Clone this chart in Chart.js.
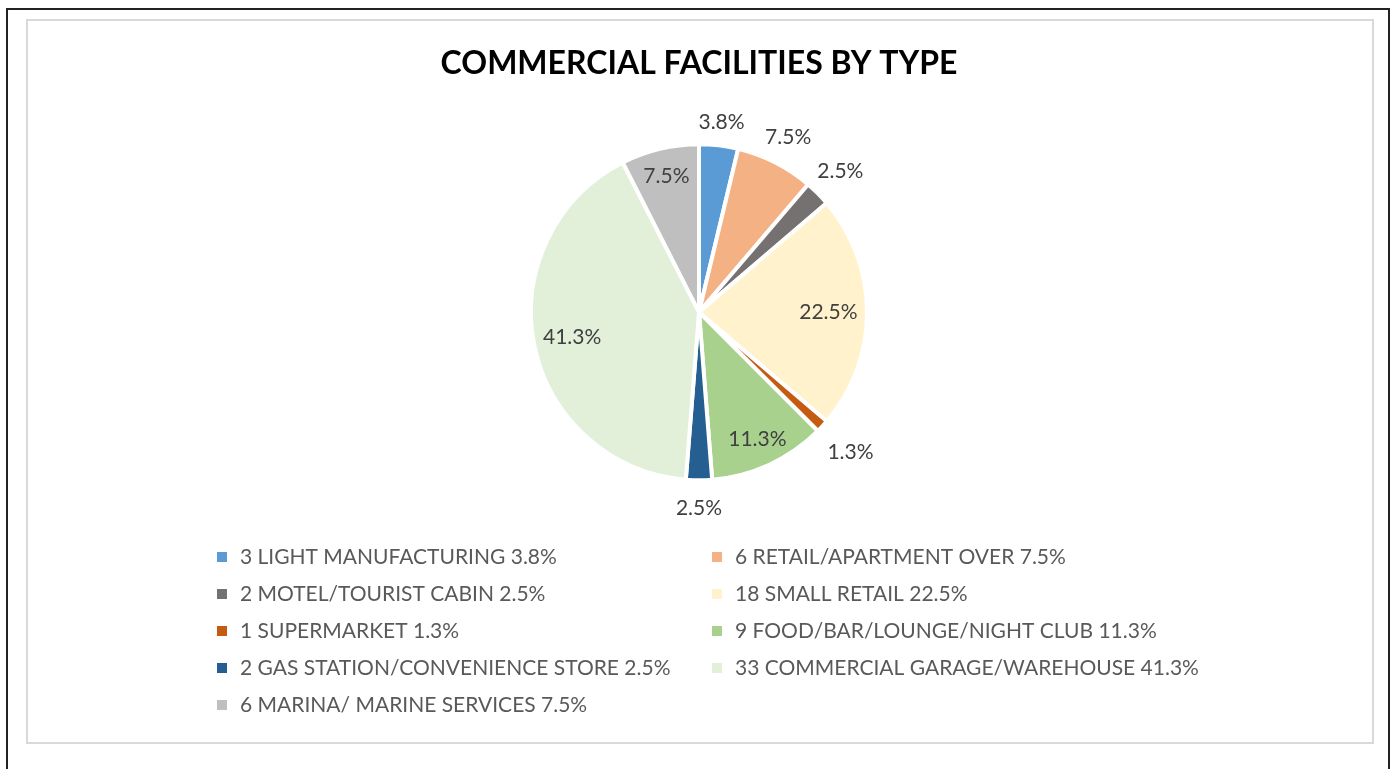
<!DOCTYPE html>
<html>
<head>
<meta charset="utf-8">
<script src="https://cdn.jsdelivr.net/npm/chart.js@4.4.1/dist/chart.umd.min.js"></script>
<style>
  html, body { margin: 0; padding: 0; background: #fff; }
  #wrap { position: relative; width: 1395px; height: 769px; overflow: hidden; }
  #outer { position: absolute; left: 6px; top: 8px; width: 1380px; height: 800px; border: 2px solid #222; }
  #inner { position: absolute; left: 26px; top: 19px; width: 1344px; height: 721px; border: 2px solid #d9d9d9; }
  #pie { position: absolute; left: 0; top: 0; }
</style>
</head>
<body>
<div id="wrap">
  <div id="outer"></div>
  <div id="inner"></div>
  <canvas id="pie" width="1395" height="769"></canvas>
</div>
<script>
// data
var categories = [
    'LIGHT MANUFACTURING',
    'RETAIL/APARTMENT OVER',
    'MOTEL/TOURIST CABIN',
    'SMALL RETAIL',
    'SUPERMARKET',
    'FOOD/BAR/LOUNGE/NIGHT CLUB',
    'GAS STATION/CONVENIENCE STORE',
    'COMMERCIAL GARAGE/WAREHOUSE',
    'MARINA/ MARINE SERVICES'
];
var counts = [3, 6, 2, 18, 1, 9, 2, 33, 6];
var percentLabels = ['3.8%', '7.5%', '2.5%', '22.5%', '1.3%', '11.3%', '2.5%', '41.3%', '7.5%'];
var colors = ['#5B9BD5', '#F4B183', '#767171', '#FFF2CC', '#C55A11', '#A9D18E', '#255E91', '#E2F0D9', '#BFBFBF'];

// slices whose percentage sits outside the pie
var outsideLabels = [0, 1, 2, 4, 6];

const sliceLabels = {
    id: 'sliceLabels',
    afterDatasetsDraw(chart) {
        const ctx = chart.ctx;
        const meta = chart.getDatasetMeta(0);
        const total = counts.reduce(function(a, b) { return a + b; }, 0);
        ctx.save();
        ctx.font = '21px Lato';
        ctx.fillStyle = '#404040';
        ctx.textAlign = 'center';
        ctx.textBaseline = 'middle';
        meta.data.forEach(function(arc, i) {
            const p = arc.getProps(['x', 'y', 'startAngle', 'endAngle', 'outerRadius'], true);
            const mid = (p.startAngle + p.endAngle) / 2;
            let r;
            if (outsideLabels.indexOf(i) >= 0) {
                // angle measured from 12 o'clock
                const a = mid + Math.PI / 2;
                r = p.outerRadius + 22 + 14 * Math.abs(Math.sin(a)) + (Math.cos(a) < 0 ? 6 : 0);
            } else {
                r = p.outerRadius * (counts[i] / total > 0.15 ? 0.77 : 0.83);
            }
            ctx.fillText(percentLabels[i], p.x + Math.cos(mid) * r, p.y + Math.sin(mid) * r);
        });
        ctx.restore();
    }
};

// two column legend, filled row by row
const gridLegend = {
    id: 'gridLegend',
    afterDraw(chart) {
        const ctx = chart.ctx;
        const meta = chart.getDatasetMeta(0);
        const cols = [217, 712];
        ctx.save();
        ctx.font = '21px Lato';
        ctx.textBaseline = 'middle';
        ctx.textAlign = 'left';
        categories.forEach(function(cat, i) {
            const x = cols[i % 2];
            const y = 557 + Math.floor(i / 2) * 37;
            ctx.fillStyle = meta.data[i].options.backgroundColor;
            ctx.fillRect(x, y - 5, 10, 10);
            ctx.fillStyle = '#595959';
            ctx.fillText(counts[i] + ' ' + cat + ' ' + percentLabels[i], x + 23, y);
        });
        ctx.restore();
    }
};

const ctx = document.getElementById('pie').getContext('2d');
const myChart = new Chart(ctx, {
    type: 'pie',
    data: {
        labels: categories,
        datasets: [{
            data: counts,
            backgroundColor: colors,
            borderColor: '#ffffff',
            borderWidth: 4
        }]
    },
    options: {
        responsive: false,
        animation: false,
        radius: 168,
        layout: {
            padding: { top: 27, left: 200, right: 197, bottom: 290 }
        },
        plugins: {
            legend: { display: false },
            tooltip: { enabled: false },
            title: {
                display: true,
                text: 'COMMERCIAL FACILITIES BY TYPE',
                color: '#000000',
                font: { family: 'Lato', size: 32, weight: 'bold', lineHeight: 1.2 },
                padding: { top: 17, bottom: 63 }
            }
        }
    },
    plugins: [sliceLabels, gridLegend]
});
</script>
</body>
</html>
